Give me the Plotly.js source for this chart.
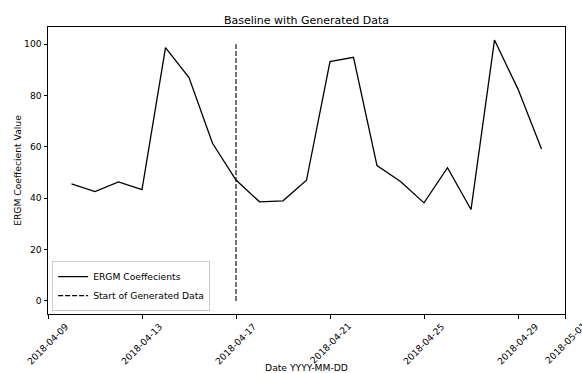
<!DOCTYPE html>
<html>
<head>
<meta charset="utf-8">
<script src="https://cdn.plot.ly/plotly-3.0.1.min.js"></script>
<style>html,body{margin:0;padding:0;background:#fff;}#chart{width:582px;height:373px;}</style>
</head>
<body>
<div id="chart"></div>
<script>
const dates = ["2018-04-10","2018-04-11","2018-04-12","2018-04-13","2018-04-14","2018-04-15","2018-04-16",
  "2018-04-17","2018-04-18","2018-04-19","2018-04-20","2018-04-21","2018-04-22","2018-04-23",
  "2018-04-24","2018-04-25","2018-04-26","2018-04-27","2018-04-28","2018-04-29","2018-04-30"];
const ergmValues = [45.6, 42.6, 46.4, 43.4, 98.7, 87.0, 61.4, 47.1, 38.6, 39.0, 47.0, 93.2, 94.9, 52.7,
  46.5, 38.2, 51.9, 35.6, 101.6, 82.5, 59.2];
const genStartX = ["2018-04-17", "2018-04-17"];
const genStartY = [0, 100];
const xTickVals = ["2018-04-09","2018-04-13","2018-04-17","2018-04-21","2018-04-25","2018-04-29","2018-05-01"];
const xTickText = ["2018-04-09","2018-04-13","2018-04-17","2018-04-21","2018-04-25","2018-04-29","2018-05-01"];
const yTickVals = [0, 20, 40, 60, 80, 100];

const font = "DejaVu Sans, sans-serif";
const fs = 9.2;
const traces = [
  {x: dates, y: ergmValues, type: "scatter", mode: "lines", name: "ERGM Coeffecients",
   line: {color: "#000", width: 1.3}},
  {x: genStartX, y: genStartY, type: "scatter", mode: "lines", name: "Start of Generated Data",
   line: {color: "#000", width: 1.1, dash: "5px,2px"}}
];
// centred, rotated date labels (matplotlib style) placed under each tick
const tickAnnotations = xTickVals.map((v, i) => ({
  x: v, xref: "x", y: 0, yref: "paper", text: xTickText[i], showarrow: false,
  textangle: -45, xanchor: "center", yanchor: "top", yshift: -4,
  font: {family: font, size: fs, color: "#000"}
}));
const layout = {
  width: 582, height: 373,
  margin: {l: 48, r: 17, t: 27, b: 59},
  paper_bgcolor: "#fff", plot_bgcolor: "#fff",
  font: {family: font, size: fs, color: "#000"},
  title: {text: "Baseline with Generated Data", font: {family: font, size: 11, color: "#000"},
          x: 0.5, xref: "paper", y: 0.946, yanchor: "middle"},
  xaxis: {type: "date", range: ["2018-04-09", "2018-05-01"], tickvals: xTickVals,
          showticklabels: false, showgrid: false, zeroline: false, showline: true, mirror: true,
          linecolor: "#000", linewidth: 1, ticks: "outside", ticklen: 3.5, tickcolor: "#000",
          title: {text: "Date YYYY-MM-DD", font: {family: font, size: fs}, standoff: 47}},
  yaxis: {range: [-5.08, 106.7], tickvals: yTickVals, showgrid: false, zeroline: false, showline: true,
          mirror: true, linecolor: "#000", linewidth: 1, ticks: "outside", ticklen: 3.5, tickcolor: "#000",
          tickfont: {family: font, size: fs},
          title: {text: "ERGM Coeffecient Value", font: {family: font, size: fs}, standoff: 0}},
  annotations: tickAnnotations,
  showlegend: true,
  legend: {x: 0.008, y: 0.01, xanchor: "left", yanchor: "bottom", bgcolor: "rgba(255,255,255,0.8)",
           bordercolor: "#ccc", borderwidth: 1, font: {family: font, size: fs}, itemwidth: 30,
           tracegroupgap: 0}
};
Plotly.newPlot("chart", traces, layout, {displayModeBar: false, staticPlot: true});
</script>
</body>
</html>
